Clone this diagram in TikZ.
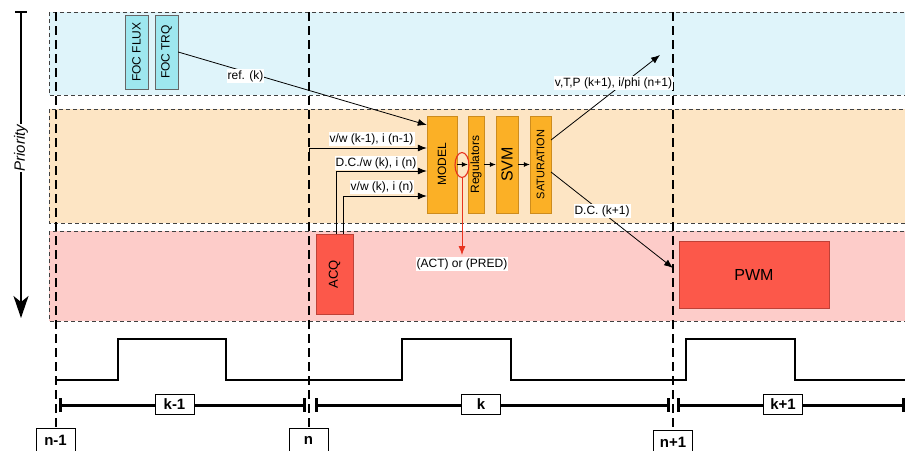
\documentclass[tikz,border=0pt]{standalone}
\usepackage{fontspec}
\setmainfont{Liberation Sans}
\usetikzlibrary{arrows.meta,calc,shapes.geometric}
\definecolor{bandblue}{RGB}{223,244,250}
\definecolor{bandorange}{RGB}{253,229,196}
\definecolor{bandred}{RGB}{253,204,201}
\definecolor{focfill}{RGB}{158,231,239}
\definecolor{orfill}{RGB}{251,176,38}
\definecolor{orline}{RGB}{205,140,30}
\definecolor{redfill}{RGB}{252,88,74}
\definecolor{redline}{RGB}{190,65,55}
\definecolor{predred}{RGB}{232,50,30}
\begin{document}
\begin{tikzpicture}[x=1pt,y=-1pt,
 band/.style={draw=black!75, dash pattern=on 4pt off 3pt, line width=0.9pt},
 tline/.style={draw=black, line width=2pt, dash pattern=on 9pt off 5pt},
 focbox/.style={draw=black!60, fill=focfill, inner sep=0pt, minimum width=23pt, minimum height=74pt, font=\fontsize{12}{14}\selectfont},
 orbox/.style={draw=orline, fill=orfill, inner sep=0pt, minimum height=97pt},
 redbox/.style={draw=redline, fill=redfill, inner sep=0pt},
 lbl/.style={fill=white, inner sep=1pt, font=\fontsize{12}{14}\selectfont},
 arr/.style={draw=black, line width=0.8pt, -{Latex[length=9pt,width=7pt]}},
 sarr/.style={draw=black, line width=0.7pt, -{Latex[length=6pt,width=5pt]}},
 tbox/.style={draw=black, fill=white, line width=0.8pt, inner sep=0pt, minimum width=39pt, minimum height=20pt, font=\fontsize{15}{17}\selectfont\bfseries},
 wave/.style={draw=black, line width=2pt},
 tbar/.style={draw=black, line width=3pt},
]
\useasboundingbox (0,0) rectangle (905,450);
% bands
\path[band, fill=bandblue] (49,12) rectangle (915,95);
\path[band, fill=bandorange] (49,109) rectangle (915,223);
\path[band, fill=bandred] (49,231) rectangle (915,321);
% time lines
\draw[tline] (56,12) -- (56,452);
\draw[tline] (309,12) -- (309,452);
\draw[tline] (673,12) -- (673,452);
% priority
\draw[line width=2pt, -{Stealth[length=22pt,width=15pt,inset=6pt]}] (21,12) -- (21,318);
\draw[line width=2pt] (15,12) -- (27,12);
\node[fill=white, inner sep=1pt, font=\fontsize{15}{17}\selectfont\itshape] (prio) at (21,148) {\rotatebox{90}{Priority}};
% FOC boxes
\node[focbox] (focflux) at (136.5,52) {\rotatebox{90}{FOC FLUX}};
\node[focbox] (foctrq) at (166.5,52) {\rotatebox{90}{FOC TRQ}};
% processing blocks
\node[orbox, minimum width=30pt, font=\fontsize{12}{14}\selectfont] (model) at (442,164.5) {\rotatebox{90}{MODEL}};
\node[orbox, minimum width=16pt, font=\fontsize{12}{14}\selectfont] (reg) at (476,164.5) {\rotatebox{90}{Regulators}};
\node[orbox, minimum width=22pt, font=\fontsize{16}{18}\selectfont] (svm) at (507,164.5) {\rotatebox{90}{SVM}};
\node[orbox, minimum width=21pt, font=\fontsize{11}{13}\selectfont] (sat) at (540.5,164.5) {\rotatebox{90}{SATURATION}};
\node[redbox, minimum width=37pt, minimum height=80pt, font=\fontsize{13}{15}\selectfont] (acq) at (334.5,274) {\rotatebox{90}{ACQ}};
\node[redbox, minimum width=150pt, minimum height=67pt, font=\fontsize{16}{18}\selectfont] (pwm) at (754,274.5) {PWM};
% inputs to model
\coordinate (refin) at (426,125);
\draw[arr] (foctrq.east) -- (refin -| model.west);
\node[lbl] (lref) at (245.5,76) {ref. (k)};
\coordinate (in1a) at (309,160);
\coordinate (in1b) at (309,148);
\draw[arr] (in1a) -- (in1b) -- (in1b -| model.west);
\node[lbl] (lin1) at (371.5,139) {v/w (k-1), i (n-1)};
\coordinate (in2) at (336,171);
\draw[arr] (acq.north -| in2) -- (in2) -- (in2 -| model.west);
\node[lbl] (lin2) at (376,163) {D.C./w (k), i (n)};
\coordinate (in3) at (343,196);
\draw[arr] (acq.north -| in3) -- (in3) -- (in3 -| model.west);
\node[lbl] (lin3) at (382,187) {v/w (k), i (n)};
% chain
\draw[sarr] (model.east) -- (reg.west);
\draw[sarr] (reg.east) -- (svm.west);
\draw[sarr] (svm.east) -- (sat.west);
\node[draw=predred, line width=1.1pt, ellipse, minimum width=14pt, minimum height=25pt, inner sep=0pt] (sel) at (462,165) {};
\coordinate (predend) at (462,255);
\draw[draw=predred, line width=0.8pt, -{Latex[length=9pt,width=7pt]}] (sel.south) -- (predend);
\node[lbl] (lpred) at (462,264) {(ACT) or (PRED)};
% outputs
\coordinate (s1) at (551,140);
\coordinate (tip1) at (660,55);
\draw[arr] (s1) -- (tip1);
\node[lbl] (lout1) at (613.5,83) {v,T,P (k+1), i/phi (n+1)};
\coordinate (s2) at (551,172);
\coordinate (tip2) at (673,268);
\draw[arr] (s2) -- (tip2);
\node[lbl] (lout2) at (602,211) {D.C. (k+1)};
% square wave
\draw[wave] (56,380) -- (118,380) -- (118,339) -- (226,339) -- (226,380) -- (402,380) -- (402,339) -- (511,339) -- (511,380) -- (686,380) -- (686,339) -- (795,339) -- (795,380) -- (905,380);
% time bars
\draw[tbar] (60,405) -- (304,405);
\draw[tbar] (60,398) -- (60,412);
\draw[tbar] (304,398) -- (304,412);
\draw[tbar] (316,405) -- (668,405);
\draw[tbar] (316,398) -- (316,412);
\draw[tbar] (668,398) -- (668,412);
\draw[tbar] (678,405) -- (903,405);
\draw[tbar] (678,398) -- (678,412);
\draw[tbar] (903,398) -- (903,412);
\node[tbox] (km1) at (174.5,404.5) {k-1};
\node[tbox] (kk) at (481,404.5) {k};
\node[tbox] (kp1) at (783,404.5) {k+1};
\node[tbox, minimum height=24pt] (nm1) at (55.5,440) {n-1};
\node[tbox, minimum height=24pt] (nn) at (308.5,440) {n};
\node[tbox, minimum height=24pt] (np1) at (673,442) {n+1};
\end{tikzpicture}
\end{document}
